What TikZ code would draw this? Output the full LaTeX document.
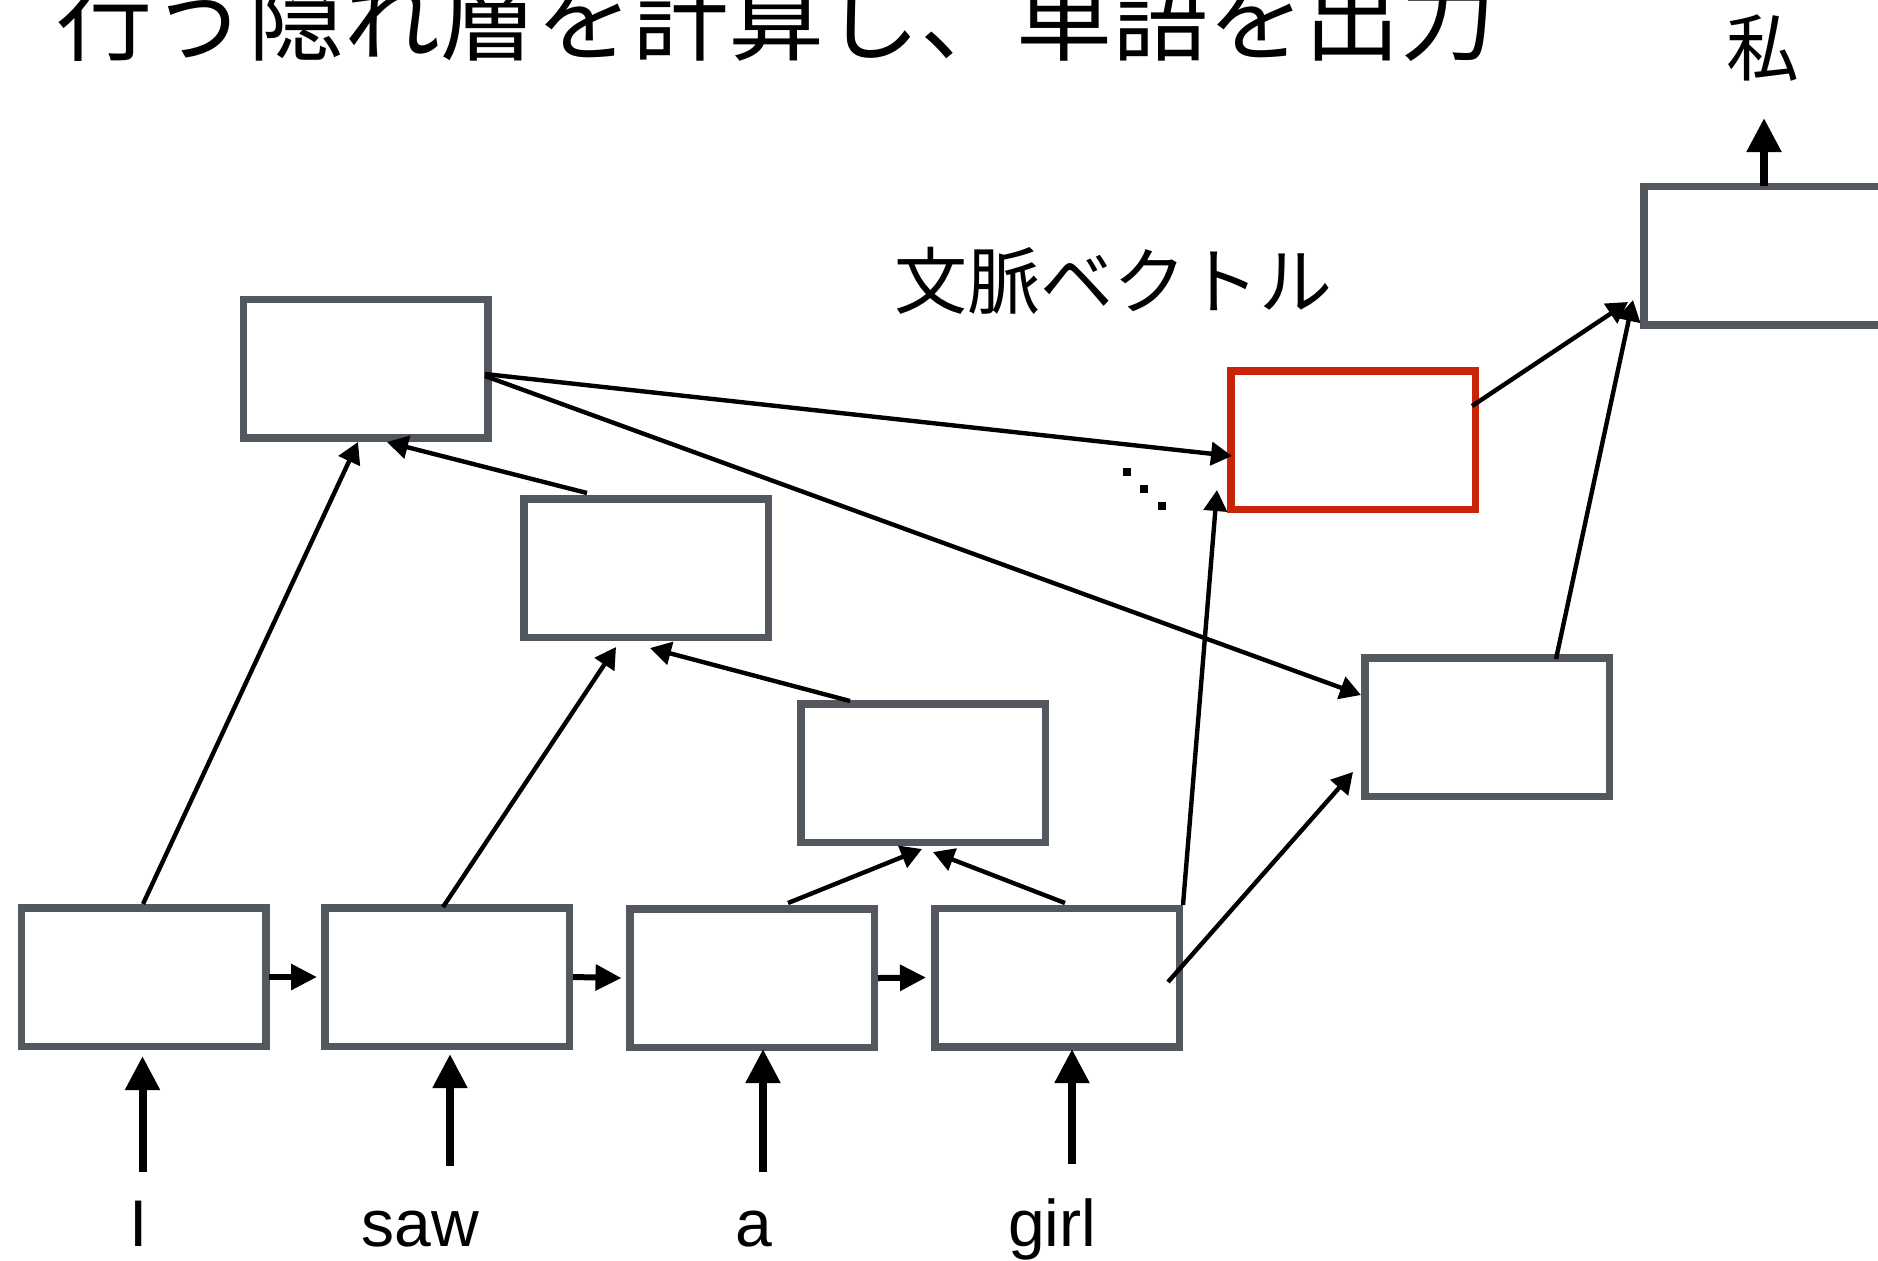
\documentclass[tikz,border=0pt]{standalone}
\usepackage{fontspec}
\setmainfont{Liberation Sans}
\newfontfamily\jpfont{Noto Sans CJK JP}
\usetikzlibrary{arrows.meta,calc}
\definecolor{boxgray}{RGB}{83,87,94}
\definecolor{ctxred}{RGB}{200,37,8}
\begin{document}
\begin{tikzpicture}[x=0.5pt,y=-0.5pt,
  rnnbox/.style={draw=boxgray,line width=3.75pt,fill=white,minimum width=122.25pt,minimum height=69.25pt,inner sep=0pt},
  ctxbox/.style={rnnbox,draw=ctxred},
  conn/.style={line width=2.2pt,-{Triangle[length=10.5pt,width=11.5pt]}},
  chainarr/.style={line width=3pt,-{Triangle[length=13pt,width=12.5pt]}},
  bigarr/.style={line width=4pt,-{Triangle[length=17pt,width=16.5pt]}},
  word/.style={font=\fontsize{33pt}{36pt}\selectfont,anchor=base,inner sep=0pt},
  jptext/.style={font=\jpfont\fontsize{36.5pt}{40pt}\selectfont,inner sep=0pt},
  dotsq/.style={fill=black,minimum size=4pt,inner sep=0pt}
]
\useasboundingbox (0,0) rectangle (1878,1260);
\clip (0,0) rectangle (1878,1260);
\fill[white] (0,0) rectangle (1878,1260);

% title (cut off at the top, as in the reference)
\node[anchor=base west,inner sep=0pt,font=\jpfont\fontsize{48pt}{52pt}\selectfont] (title) at (56,53) {行う隠れ層を計算し、単語を出力};

% encoder boxes
\node[rnnbox] (A1) at (143.5,977) {};
\node[rnnbox] (A2) at (447,977) {};
\node[rnnbox] (A3) at (752,978) {};
\node[rnnbox] (A4) at (1057,977.5) {};
\node[rnnbox] (B1) at (365.5,368.5) {};
\node[rnnbox] (B2) at (646,568) {};
\node[rnnbox] (B3) at (923,773) {};
% context vector and decoder
\node[ctxbox] (C) at (1353,440) {};
\node[rnnbox] (D) at (1487,727) {};
\node[rnnbox] (E) at (1766,255.5) {};

% labels
\node[jptext] (ctxlabel) at (1113,281) {文脈ベクトル};
\node[jptext] (outw) at (1763,48) {私};
\node[word] (wI) at (139,1246) {I};
\node[word] (wsaw) at (420,1246) {saw};
\node[word] (wa) at (754,1246) {a};
\node[word] (wgirl) at (1052,1246) {girl};

% dots
\node[dotsq] (d1) at (1127,472) {};
\node[dotsq] (d2) at (1144,489) {};
\node[dotsq] (d3) at (1162,506) {};

% chain arrows
\draw[chainarr] ($(A1)+(125.5,0)$) -- ($(A2)+(-130,0)$);
\draw[chainarr] ($(A2)+(126,0)$) -- ($(A3)+(-130.5,0)$);
\draw[chainarr] ($(A3)+(126,0)$) -- ($(A4)+(-131,0)$);

% input arrows
\coordinate (inI) at (142.5,1172);
\coordinate (insaw) at (450,1166);
\coordinate (ina) at (763,1172);
\coordinate (ingirl) at (1072,1164);
\draw[bigarr] (inI) -- ($(A1)+(-1,79)$);
\draw[bigarr] (insaw) -- ($(A2)+(3,77)$);
\draw[bigarr] (ina) -- ($(A3)+(11,71)$);
\draw[bigarr] (ingirl) -- ($(A4)+(15,71.5)$);

% tree connectors
\draw[conn] ($(A1)+(-0.5,-73)$) -- ($(B1)+(-7.5,73.5)$);
\draw[conn] ($(A2)+(-4,-70)$) -- ($(B2)+(-30,79)$);
\draw[conn] ($(B2)+(-59,-75)$) -- ($(B1)+(21.5,73.5)$);
\draw[conn] ($(B3)+(-73,-72)$) -- ($(B2)+(4,80)$);
\draw[conn] ($(A3)+(36,-75)$) -- ($(B3)+(-1,76)$);
\draw[conn] ($(A4)+(8,-74.5)$) -- ($(B3)+(10,79)$);

% to context / decoder
\draw[conn] ($(B1)+(119.5,5.5)$) -- ($(C)+(-121,16)$);
\draw[conn] ($(B1)+(119.5,7.5)$) -- ($(D)+(-126,-32)$);
\draw[conn] ($(A4)+(126,-72.5)$) -- ($(C)+(-136,50)$);
\draw[conn] ($(A4)+(111,4.5)$) -- ($(D)+(-134,45)$);
\draw[conn] ($(C)+(119,-34)$) -- ($(E)+(-138,46.5)$);
\draw[conn] ($(D)+(69,-68)$) -- ($(E)+(-133,44.5)$);

% output arrow
\draw[bigarr] ($(E)+(-2,-69.5)$) -- ($(E)+(-2,-137.5)$);
\end{tikzpicture}
\end{document}
